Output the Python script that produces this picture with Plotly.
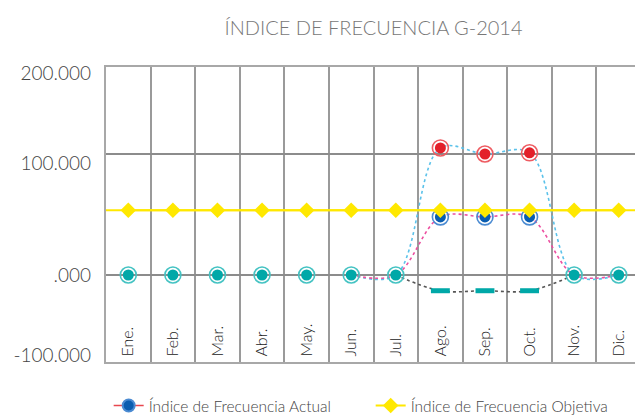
import plotly.graph_objects as go

# ---------------- data ----------------
meses = ["Ene.", "Feb.", "Mar.", "Abr.", "May.", "Jun.", "Jul.",
         "Ago.", "Sep.", "Oct.", "Nov.", "Dic."]
indice_cero = [0, 0, 0, 0, 0, 0, 0, None, None, None, 0, 0]
indice_rojo = [None, None, None, None, None, None, None, 105, 100, 101, None, None]
indice_azul = [None, None, None, None, None, None, None, 48, 48, 48, None, None]
indice_guion = [None, None, None, None, None, None, None, -13, -13, -13, None, None]
objetivo = [53.5] * 12
linea_celeste = [None, None, None, None, None, 0, 0, 105, 100, 101, 0, 0]
linea_rosa = [None, None, None, None, None, 0, 0, 48, 48, 48, 0, 0]
linea_negra = [None, None, None, None, None, None, 0, -13, -13, -13, 0, None]

y_grid = [0, 100]
y_tick_pos = [167, 92, -0.6, -66]
y_tick_text = ["200.000", "100.000", ".000", "-100.000"]
y_range = [-71.9, 171.9]

FONT = "Lato"
fig = go.Figure()

# legend entry for actual index (first in legend)
fig.add_trace(go.Scatter(x=[None], y=[None], mode="lines+markers", name="Índice de Frecuencia Actual",
                         line=dict(color="#E8474F", width=1.6),
                         marker=dict(symbol="circle", size=12, color="#0A5DB0", line=dict(color="#4B8BD2", width=2))))

# dotted spline lines
for vals, col in [(linea_celeste, "#5BC2EA"), (linea_rosa, "#EC4FA0"), (linea_negra, "#555555")]:
    fig.add_trace(go.Scatter(x=meses, y=vals, mode="lines", line=dict(color=col, width=1.6, dash="dot", shape="spline"),
                             showlegend=False, hoverinfo="skip"))


def ring(vals, inner, outer):
    fig.add_trace(go.Scatter(x=meses, y=vals, mode="markers", showlegend=False,
                             marker=dict(symbol="circle-open", size=16, color=outer, line=dict(color=outer, width=1.6))))
    fig.add_trace(go.Scatter(x=meses, y=vals, mode="markers", showlegend=False,
                             marker=dict(symbol="circle", size=11, color=inner, line=dict(width=0))))


ring(indice_cero, "#00A8A8", "#45C3C3")
ring(indice_rojo, "#E3202A", "#EE5C62")
ring(indice_azul, "#0A5DB0", "#4B8BD2")

fig.add_trace(go.Scatter(x=meses, y=indice_guion, mode="markers", showlegend=False,
                         marker=dict(symbol="line-ew", size=13.5, color="#00A8A8", line=dict(color="#00A8A8", width=5))))

# objective
fig.add_hline(y=objetivo[0], line=dict(color="#FFE800", width=2), layer="above")
fig.add_trace(go.Scatter(x=meses, y=objetivo, mode="lines+markers", name="Índice de Frecuencia Objetiva",
                         line=dict(color="#FFE800", width=2),
                         marker=dict(symbol="diamond", size=12, color="#FFE800")))

# ghost trace to activate the label axis (own hidden x axis)
fig.add_trace(go.Scatter(x=[0], y=[None], xaxis="x2", yaxis="y2", showlegend=False, hoverinfo="skip"))

fig.update_layout(
    width=635, height=408,
    margin=dict(l=98, r=2, t=59, b=54, autoexpand=False),
    paper_bgcolor="white", plot_bgcolor="white",
    title=dict(text="ÍNDICE DE FRECUENCIA G-2014", x=0.5, xref="paper", y=0.951, yanchor="middle",
               font=dict(family=FONT, size=20, color="#777777", weight=300)),
    xaxis=dict(type="category", categoryorder="array", categoryarray=meses, tickson="boundaries",
               showgrid=True, gridcolor="#9A9A9A", gridwidth=2, automargin=False,
               showline=True, linecolor="#A8A8A8", linewidth=2, mirror=True,
               ticks="", ticklabelposition="inside", tickangle=-90,
               tickfont=dict(family=FONT, size=16, color="#222222", weight=300), range=[-0.5, 11.5]),
    xaxis2=dict(overlaying="x", anchor="y2", visible=False, range=[0, 1]),
    yaxis=dict(range=y_range, tickvals=y_grid, showticklabels=False, showgrid=True, automargin=False,
               gridcolor="#8C8C8C", gridwidth=2, zeroline=False, ticks="",
               showline=True, linecolor="#A8A8A8", linewidth=2, mirror=True),
    yaxis2=dict(range=y_range, overlaying="y", side="left", anchor="x2",
                tickvals=y_tick_pos, ticktext=y_tick_text, ticklabeloverflow="allow",
                showgrid=False, zeroline=False, ticks="", showline=False, automargin=False,
                ticklabelstandoff=14,
                tickfont=dict(family=FONT, size=19, color="#444444", weight=300)),
    legend=dict(orientation="h", x=0.005, xanchor="left", y=-0.149, yanchor="middle",
                font=dict(family=FONT, size=15.5, color="#444444", weight=300), entrywidth=217,
                bgcolor="rgba(0,0,0,0)"),
)

fig.write_html("out.html")
